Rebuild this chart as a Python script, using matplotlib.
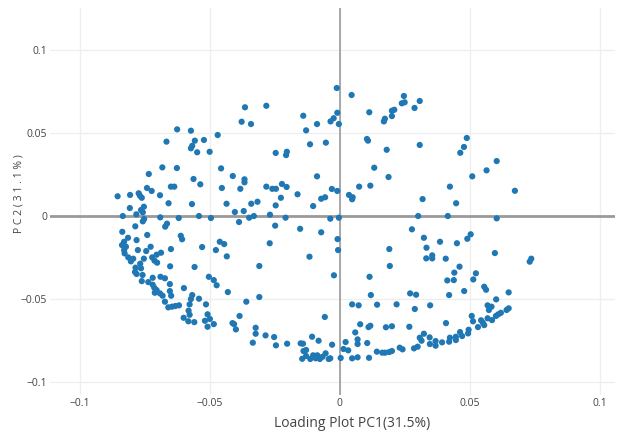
import numpy as np
import matplotlib
matplotlib.use("Agg")
import matplotlib.pyplot as plt

plt.rcParams["font.family"] = ["Open Sans", "DejaVu Sans"]

# ── loading values (PC1, PC2) ────────────────────────────────────────────────
pc1 = [
    -0.0626, -0.0573, -0.0667, -0.0558, -0.0523, -0.0568, -0.0573, -0.0549, -0.0501, -0.0470,
    -0.0683, -0.0627, -0.0735, -0.0563,
    -0.0365, -0.0283, -0.0378, -0.0342, -0.0141, -0.0088, -0.0130, -0.0115, -0.0054,
    -0.0247, -0.0204, -0.0207, -0.0457, -0.0412, -0.0367, -0.0088,
    -0.0012, 0.0045, 0.0246, 0.0238, 0.0249, 0.0307, 0.0287, -0.0010, -0.0024, -0.0036,
    -0.0004, 0.0113, 0.0200, 0.0209, 0.0200, 0.0173, 0.0169, 0.0104, 0.0108, 0.0180,
    0.0307, 0.0132, 0.0187,
    0.0488, 0.0477, 0.0463, 0.0603, 0.0564, 0.0509,
    -0.0855, -0.0807, -0.0774, -0.0769, -0.0762, -0.0742, -0.0724, -0.0692, -0.0650, -0.0637,
    -0.0537, -0.0659, -0.0569, -0.0808, -0.0754, -0.0765, -0.0783, -0.0758, -0.0835, -0.0691,
    -0.0620, -0.0542, -0.0496, -0.0758, -0.0753, -0.0787, -0.0665, -0.0672, -0.0837, -0.0741,
    -0.0612, -0.0607, -0.0830, -0.0815, -0.0782, -0.0838, -0.0823, -0.0830, -0.0828, -0.0814,
    -0.0777, -0.0728, -0.0745, -0.0688, -0.0705, -0.0722, -0.0713, -0.0703, -0.0650, -0.0754,
    -0.0795, -0.0804, -0.0768, -0.0765, -0.0786, -0.0788, -0.0782, -0.0759, -0.0720, -0.0690,
    -0.0673, -0.0653, -0.0559, -0.0530, -0.0477, -0.0462, -0.0504,
    -0.0454, -0.0367, -0.0383, -0.0283, -0.0260, -0.0246, -0.0223, -0.0205, -0.0436, -0.0341,
    -0.0317, -0.0247, -0.0227, -0.0163, -0.0072, -0.0057, -0.0103, -0.0404, -0.0370, -0.0388,
    -0.0349, -0.0331, -0.0269, -0.0209, -0.0249, -0.0153, -0.0072, -0.0445, -0.0435, -0.0270,
    -0.0117, -0.0310,
    -0.0031, -0.0010, 0.0035, 0.0049, 0.0047, 0.0074, 0.0117, 0.0318, -0.0037, -0.0004,
    0.0301, 0.0277, -0.0009, -0.0007, 0.0190, 0.0323, 0.0333, 0.0355, 0.0355, 0.0332,
    0.0385, -0.0023, 0.0114, 0.0192,
    0.0423, 0.0673, 0.0447, 0.0415, 0.0603, 0.0503, 0.0490, 0.0450, 0.0596, 0.0407,
    0.0736, 0.0730, 0.0460, 0.0440, 0.0523, 0.0438, 0.0513, 0.0413,
    -0.0762, -0.0737, -0.0720, -0.0714, -0.0705, -0.0712, -0.0692, -0.0682, -0.0673, -0.0654,
    -0.0654, -0.0649, -0.0660, -0.0646, -0.0633, -0.0619, -0.0600, -0.0568, -0.0573, -0.0578,
    -0.0542, -0.0582, -0.0578, -0.0601, -0.0583, -0.0560, -0.0515, -0.0509, -0.0500, -0.0519,
    -0.0509, -0.0485, -0.0485, -0.0474,
    -0.0431, -0.0360, -0.0310, -0.0386, -0.0413, -0.0407, -0.0400, -0.0324, -0.0324, -0.0335,
    -0.0286, -0.0253, -0.0246, -0.0203, -0.0151, -0.0142, -0.0058, -0.0107, -0.0082, -0.0140,
    -0.0130, -0.0145, -0.0130, -0.0114, -0.0103, -0.0093, -0.0087, -0.0077, -0.0067, -0.0055,
    -0.0043,
    0.0119, 0.0270, 0.0293, 0.0047, 0.0072, 0.0143, 0.0218, 0.0288, 0.0347, 0.0078,
    0.0110, 0.0117, 0.0177, 0.0200, 0.0267, 0.0059, 0.0068, 0.0022, 0.0068, -0.0030,
    0.0105, 0.0014, 0.0032, 0.0003, 0.0047, 0.0068, 0.0112, 0.0142, 0.0163, 0.0174,
    0.0190, 0.0200, 0.0230, 0.0241, 0.0285, 0.0299, 0.0307, 0.0323, 0.0314, 0.0345,
    0.0346, 0.0368, 0.0368, -0.0037,
    0.0420, 0.0478, 0.0555, 0.0562, 0.0649, 0.0601, 0.0568, 0.0583, 0.0573, 0.0507,
    0.0512, 0.0568, 0.0585, 0.0543, 0.0550, 0.0555, 0.0531, 0.0600, 0.0609, 0.0619,
    0.0641, 0.0649, 0.0408, 0.0495, 0.0493, 0.0462, 0.0470, 0.0446, 0.0446, 0.0423,
    0.0420, 0.0393,
]
pc2 = [
    0.0522, 0.0514, 0.0448, 0.0454, 0.0458, 0.0423, 0.0408, 0.0384, 0.0387, 0.0488,
    0.0293, 0.0289, 0.0253, 0.0223,
    0.0655, 0.0664, 0.0568, 0.0554, 0.0604, 0.0554, 0.0516, 0.0432, 0.0442,
    0.0380, 0.0387, 0.0367, 0.0287, 0.0241, 0.0221, 0.0239,
    0.0771, 0.0729, 0.0723, 0.0679, 0.0685, 0.0693, 0.0651, 0.0622, 0.0589, 0.0570,
    0.0554, 0.0625, 0.0634, 0.0640, 0.0602, 0.0586, 0.0570, 0.0464, 0.0454, 0.0399,
    0.0428, 0.0291, 0.0235,
    0.0470, 0.0416, 0.0381, 0.0331, 0.0275, 0.0239,
    0.0119, 0.0127, 0.0137, 0.0122, 0.0110, 0.0169, 0.0151, 0.0125, 0.0177, 0.0177,
    0.0191, 0.0077, 0.0072, 0.0048, 0.0056, 0.0036, 0.0010, 0.0022, 0.0000, -0.0008,
    -0.0012, 0.0000, -0.0012, -0.0032, -0.0018, -0.0062, -0.0046, -0.0064, -0.0095, -0.0114,
    -0.0119, -0.0140, -0.0155, -0.0131, -0.0145, -0.0175, -0.0185, -0.0205, -0.0225, -0.0249,
    -0.0205, -0.0185, -0.0211, -0.0221, -0.0233, -0.0249, -0.0269, -0.0281, -0.0199, -0.0257,
    -0.0257, -0.0273, -0.0287, -0.0315, -0.0311, -0.0337, -0.0349, -0.0355, -0.0372, -0.0366,
    -0.0375, -0.0303, -0.0307, -0.0187, -0.0205, -0.0155, -0.0366,
    0.0169, 0.0203, 0.0164, 0.0177, 0.0164, 0.0164, 0.0193, 0.0175, 0.0074, 0.0074,
    0.0086, 0.0064, 0.0110, 0.0131, 0.0104, 0.0113, 0.0060, 0.0024, 0.0030, -0.0036,
    -0.0010, 0.0000, 0.0008, -0.0010, -0.0058, -0.0077, -0.0098, -0.0169, -0.0243, -0.0164,
    -0.0245, -0.0301,
    0.0163, 0.0151, 0.0127, 0.0113, 0.0101, 0.0177, 0.0183, 0.0102, -0.0016, -0.0010,
    0.0000, -0.0080, -0.0139, -0.0205, -0.0199, -0.0131, -0.0191, -0.0237, -0.0255, -0.0255,
    -0.0155, -0.0357, -0.0366, -0.0301,
    0.0177, 0.0152, 0.0077, 0.0000, -0.0014, -0.0110, -0.0137, -0.0164, -0.0223, -0.0257,
    -0.0257, -0.0275, -0.0305, -0.0341, -0.0345, -0.0386, -0.0382, -0.0388,
    -0.0392, -0.0398, -0.0414, -0.0432, -0.0446, -0.0462, -0.0466, -0.0480, -0.0516, -0.0410,
    -0.0452, -0.0480, -0.0550, -0.0546, -0.0542, -0.0538, -0.0434, -0.0476, -0.0500, -0.0532,
    -0.0498, -0.0570, -0.0595, -0.0613, -0.0634, -0.0639, -0.0532, -0.0592, -0.0620, -0.0631,
    -0.0667, -0.0651, -0.0386, -0.0417,
    -0.0458, -0.0516, -0.0488, -0.0602, -0.0645, -0.0651, -0.0683, -0.0673, -0.0709, -0.0763,
    -0.0719, -0.0729, -0.0779, -0.0769, -0.0767, -0.0769, -0.0608, -0.0727, -0.0751, -0.0813,
    -0.0807, -0.0860, -0.0843, -0.0861, -0.0839, -0.0857, -0.0839, -0.0861, -0.0848, -0.0827,
    -0.0861,
    -0.0476, -0.0466, -0.0474, -0.0532, -0.0538, -0.0534, -0.0532, -0.0560, -0.0538, -0.0652,
    -0.0669, -0.0661, -0.0670, -0.0664, -0.0667, -0.0701, -0.0743, -0.0759, -0.0771, -0.0775,
    -0.0765, -0.0801, -0.0809, -0.0855, -0.0857, -0.0851, -0.0854, -0.0817, -0.0823, -0.0823,
    -0.0819, -0.0813, -0.0793, -0.0803, -0.0797, -0.0787, -0.0733, -0.0709, -0.0751, -0.0731,
    -0.0771, -0.0753, -0.0781, -0.0857,
    -0.0476, -0.0452, -0.0426, -0.0444, -0.0460, -0.0502, -0.0538, -0.0546, -0.0566, -0.0602,
    -0.0634, -0.0616, -0.0627, -0.0628, -0.0643, -0.0657, -0.0669, -0.0602, -0.0592, -0.0583,
    -0.0566, -0.0556, -0.0645, -0.0685, -0.0707, -0.0699, -0.0723, -0.0727, -0.0747, -0.0733,
    -0.0757, -0.0761,
]

XTICKS = [-0.1, -0.05, 0, 0.05, 0.1]
YTICKS = [-0.1, -0.05, 0, 0.05, 0.1]
TICK_LABELS = ["\u22120.1", "\u22120.05", "0", "0.05", "0.1"]

fig = plt.figure(figsize=(6.21, 4.32), dpi=100)
ax = fig.add_axes([50 / 621, 37 / 432, 565 / 621, 387 / 432])

ax.scatter(pc1, pc2, s=20, color="#1f77b4", edgecolors="none", zorder=3)

ax.axhline(0, color="#9a9a9a", linewidth=2.0, zorder=2)
ax.axvline(0, color="#9a9a9a", linewidth=1.2, zorder=2)

ax.set_xlim(-0.1115, 0.1058)
ax.set_ylim(-0.1078, 0.1253)
ax.set_xticks(XTICKS)
ax.set_xticklabels(TICK_LABELS)
ax.set_yticks(YTICKS)
ax.set_yticklabels(TICK_LABELS)
ax.grid(color="#eeeeee", linewidth=0.9, zorder=0)
ax.tick_params(length=0, labelsize=7.5, labelcolor="#444444", pad=2)
for sp in ax.spines.values():
    sp.set_visible(False)

ax.set_xlabel("Loading Plot PC1(31.5%)", fontsize=10, color="#444444")
ax.xaxis.set_label_coords(0.535, -0.055)
ax.set_ylabel("P C 2 ( 3 1 . 1 % )", fontsize=7.5, color="#444444")
ax.yaxis.set_label_coords(-0.046, 0.52)

fig.savefig("out.png", dpi=100)
